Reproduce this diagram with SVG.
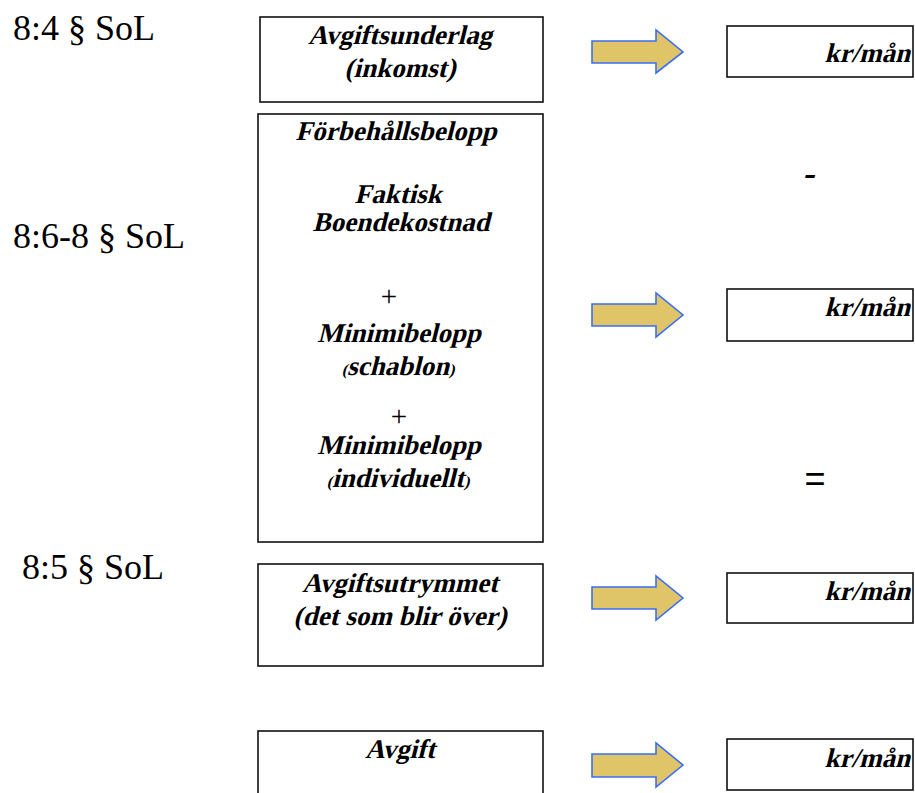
<svg xmlns="http://www.w3.org/2000/svg" width="915" height="793" viewBox="0 0 915 793">
<style>
.box{fill:#fff;stroke:#111;stroke-width:1.6}
.t{font-family:"Liberation Serif","Times New Roman",serif;font-weight:700;font-size:27px;fill:#000;text-anchor:middle}
.sm{font-size:16px}
.kr{font-family:"Liberation Serif","Times New Roman",serif;font-weight:700;font-size:27px;fill:#000;text-anchor:end}
.law{font-family:"Liberation Serif","Times New Roman",serif;font-size:36px;fill:#000}
.plus{font-family:"Liberation Serif","Times New Roman",serif;font-size:29px;fill:#000;text-anchor:middle}
.minus{font-family:"Liberation Serif","Times New Roman",serif;font-weight:700;font-size:36px;fill:#000;text-anchor:middle}
.eq{font-family:"Liberation Sans",Arial,sans-serif;font-size:36px;fill:#000;text-anchor:middle}
.arr{fill:#DFC468;stroke:#3B6EF5;stroke-width:1.6;stroke-linejoin:miter}
</style>
<rect width="915" height="793" fill="#fff"/>
<g id="labels">
<text class="law" x="13" y="40">8:4 § SoL</text>
<text class="law" x="13" y="248">8:6-8 § SoL</text>
<text class="law" x="22" y="579">8:5 § SoL</text>
</g>
<g id="node-avgiftsunderlag">
<rect class="box" x="260" y="17" width="283" height="85"/>
<text class="t" transform="translate(400,44) skewX(-14)">Avgiftsunderlag</text>
<text class="t" transform="translate(400,77) skewX(-14)">(inkomst)</text>
</g>
<g id="node-forbehallsbelopp">
<rect class="box" x="258" y="114" width="285" height="428"/>
<text class="t" transform="translate(396,140) skewX(-14)">Förbehållsbelopp</text>
<text class="t" transform="translate(398,203) skewX(-14)">Faktisk</text>
<text class="t" transform="translate(401,231) skewX(-14)">Boendekostnad</text>
<text class="plus" x="389" y="306">+</text>
<text class="t" transform="translate(399,342) skewX(-14)">Minimibelopp</text>
<text class="t" transform="translate(398,375) skewX(-14)"><tspan class="sm">(</tspan>schablon<tspan class="sm">)</tspan></text>
<text class="plus" x="399" y="426">+</text>
<text class="t" transform="translate(399,454) skewX(-14)">Minimibelopp</text>
<text class="t" transform="translate(398,487) skewX(-14)"><tspan class="sm">(</tspan>individuellt<tspan class="sm">)</tspan></text>
</g>
<g id="node-avgiftsutrymmet">
<rect class="box" x="258" y="564" width="285" height="102"/>
<text class="t" transform="translate(400,592) skewX(-14)">Avgiftsutrymmet</text>
<text class="t" transform="translate(400,625) skewX(-14)">(det som blir över)</text>
</g>
<g id="node-avgift">
<rect class="box" x="258" y="731" width="285" height="80"/>
<text class="t" transform="translate(400,758) skewX(-14)">Avgift</text>
</g>
<g id="node-result1">
<rect class="box" x="727" y="26" width="186" height="51"/>
<text class="kr" transform="translate(910,62) skewX(-14)">kr/mån</text>
</g>
<g id="node-result2">
<rect class="box" x="727" y="289" width="186" height="52"/>
<text class="kr" transform="translate(910,316) skewX(-14)">kr/mån</text>
</g>
<g id="node-result3">
<rect class="box" x="727" y="573" width="186" height="50"/>
<text class="kr" transform="translate(910,600) skewX(-14)">kr/mån</text>
</g>
<g id="node-result4">
<rect class="box" x="727" y="739" width="186" height="51"/>
<text class="kr" transform="translate(910,767) skewX(-14)">kr/mån</text>
</g>
<g id="operators">
<text class="minus" transform="translate(808,185) skewX(-14)">-</text>
<text class="eq" x="815" y="491">=</text>
</g>
<g id="connectors">
<polygon class="arr" points="592,41 656,41 656,30 683,52 656,73 656,63 592,63"/>
<polygon class="arr" points="592,304 656,304 656,293 683,315 656,337 656,326 592,326"/>
<polygon class="arr" points="592,587 656,587 656,576 683,598 656,620 656,609 592,609"/>
<polygon class="arr" points="592,754 656,754 656,743 683,765 656,787 656,777 592,777"/>
</g>
</svg>
